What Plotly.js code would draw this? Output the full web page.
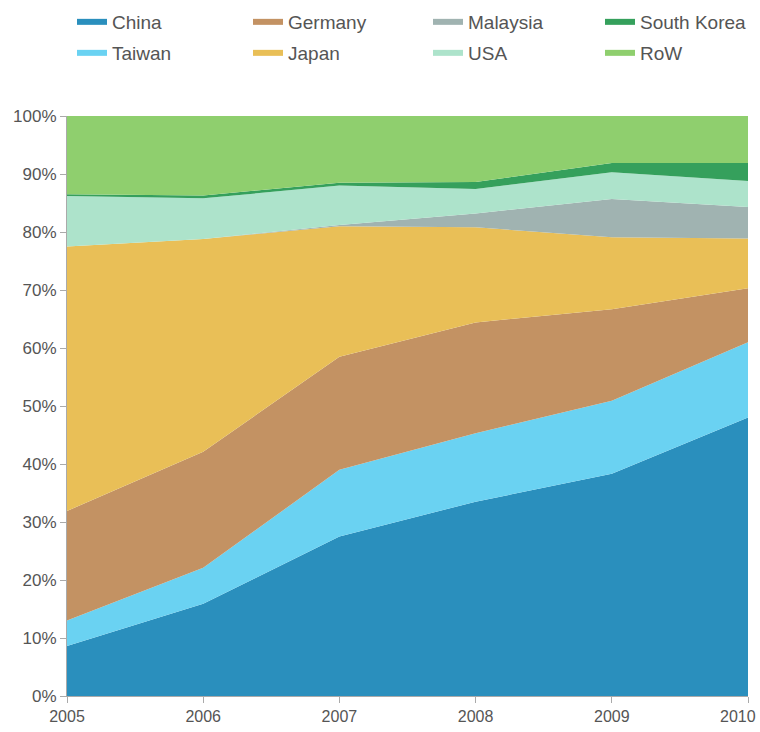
<!DOCTYPE html>
<html>
<head>
<meta charset="utf-8">
<script src="https://cdn.plot.ly/plotly-3.0.1.min.js"></script>
<style>html,body{margin:0;padding:0;background:#fff;}#chart{width:760px;height:732px;}</style>
</head>
<body>
<div id="chart"></div>
<script>
const years = [2005, 2006, 2007, 2008, 2009, 2010];
const china      = [8.6, 15.9, 27.5, 33.5, 38.3, 48.0];
const taiwan     = [4.4, 6.2, 11.5, 11.8, 12.6, 13.0];
const germany    = [18.9, 20.0, 19.5, 19.1, 15.8, 9.3];
const japan      = [45.6, 36.7, 22.5, 16.4, 12.4, 8.6];
const malaysia   = [0.0, 0.0, 0.2, 2.4, 6.6, 5.4];
const usa        = [8.7, 7.0, 6.8, 4.2, 4.6, 4.5];
const southKorea = [0.3, 0.5, 0.5, 1.2, 1.6, 3.1];
const row        = [13.5, 13.7, 11.5, 11.4, 8.1, 8.1];
const yTickVals  = [0, 10, 20, 30, 40, 50, 60, 70, 80, 90, 100];
const yTickText  = ["0%", "10%", "20%", "30%", "40%", "50%", "60%", "70%", "80%", "90%", "100%"];

const series = [
  {name: "China", y: china, color: "#2a8fbd"},
  {name: "Taiwan", y: taiwan, color: "#6ad2f2"},
  {name: "Germany", y: germany, color: "#c39263"},
  {name: "Japan", y: japan, color: "#e9bf57"},
  {name: "Malaysia", y: malaysia, color: "#a0b3b1"},
  {name: "USA", y: usa, color: "#ade3cb"},
  {name: "South Korea", y: southKorea, color: "#35a05c"},
  {name: "RoW", y: row, color: "#8fcf6e"}
];

// legend placement: column (0-3), row (0-1)
const legendSlots = {
  "China": [0, 0], "Germany": [1, 0], "Malaysia": [2, 0], "South Korea": [3, 0],
  "Taiwan": [0, 1], "Japan": [1, 1], "USA": [2, 1], "RoW": [3, 1]
};
const colPx = [72, 248, 428, 600];
const rowPx = [22, 53];

const traces = [];
series.forEach(s => {
  traces.push({
    type: "scatter", mode: "lines", x: years, y: s.y, name: s.name,
    stackgroup: "one", line: {width: 0, color: s.color}, fillcolor: s.color,
    showlegend: false, hoverinfo: "x+y+name"
  });
});

const lastYear = years[years.length - 1];
const xTickText = years.map((y, i) => i === years.length - 1 ? "" : String(y));

const layout = {
  width: 760, height: 732,
  margin: {l: 67, r: 12, t: 116, b: 36},
  paper_bgcolor: "#fff", plot_bgcolor: "#fff",
  font: {family: "Liberation Sans, Arial, sans-serif", color: "#555"},
  xaxis: {
    range: [2005, 2010], tickvals: years, ticktext: xTickText,
    showgrid: false, zeroline: false, showline: true, linecolor: "#aaa", linewidth: 1,
    ticks: "outside", ticklen: 6, tickcolor: "#aaa",
    tickfont: {size: 16, color: "#555"}
  },
  yaxis: {
    range: [0, 100], tickvals: yTickVals, ticktext: yTickText,
    showgrid: false, zeroline: false, showline: true, linecolor: "#aaa", linewidth: 1,
    ticks: "outside", ticklen: 6, tickcolor: "#aaa",
    tickfont: {size: 17, color: "#555"}
  },
  annotations: [{
    x: lastYear, xref: "x", y: 0, yref: "paper", yanchor: "top", xanchor: "right",
    xshift: 10, yshift: -10, text: String(lastYear), showarrow: false,
    font: {family: "Liberation Sans, Arial, sans-serif", size: 16, color: "#555"}
  }]
};

series.forEach((s, i) => {
  const key = i === 0 ? "legend" : "legend" + (i + 1);
  const slot = legendSlots[s.name];
  layout[key] = {
    orientation: "h", xref: "container", yref: "container",
    xanchor: "left", yanchor: "middle",
    x: colPx[slot[0]] / 760, y: 1 - rowPx[slot[1]] / 732,
    font: {family: "Liberation Sans, Arial, sans-serif", size: 19, color: "#555"},
    bgcolor: "rgba(0,0,0,0)", borderwidth: 0, itemwidth: 30, traceorder: "normal"
  };
  traces.push({
    type: "scatter", mode: "lines", x: [null], y: [null], name: s.name,
    line: {width: 6, color: s.color}, showlegend: true, legend: key, hoverinfo: "skip"
  });
});

Plotly.newPlot("chart", traces, layout, {displayModeBar: false, staticPlot: true});
</script>
</body>
</html>
